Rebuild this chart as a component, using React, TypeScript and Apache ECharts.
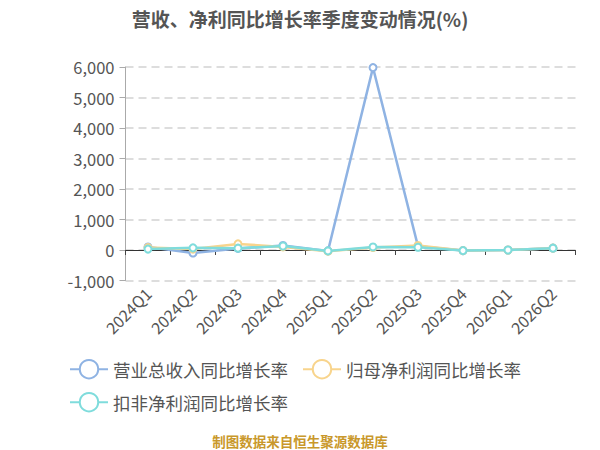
import React, { useEffect, useRef } from "react";
import * as echarts from "echarts";

const categories = ["2024Q1", "2024Q2", "2024Q3", "2024Q4", "2025Q1", "2025Q2", "2025Q3", "2025Q4", "2026Q1", "2026Q2"];
const revenueGrowth = [100, -100, 50, 150, -30, 5980, 120, -20, 0, 60];
const netProfitGrowth = [80, 30, 200, 100, -40, 80, 150, -20, 0, 60];
const deductedProfitGrowth = [30, 70, 60, 130, -30, 100, 90, -20, 0, 60];
const seriesNames = ["营业总收入同比增长率", "归母净利润同比增长率", "扣非净利润同比增长率"];
const titleText = "营收、净利同比增长率季度变动情况(%)";
const footerText = "制图数据来自恒生聚源数据库";

const colors = ["#8fb3e3", "#f8d48c", "#7fdcdc"];
const font = "'Noto Sans CJK SC', 'Noto Sans', sans-serif";

export default function App() {
  const ref = useRef<HTMLDivElement>(null);
  useEffect(() => {
    if (!ref.current) return;
    const chart = echarts.init(ref.current, undefined, { renderer: "svg" });
    const values = [revenueGrowth, netProfitGrowth, deductedProfitGrowth];
    chart.setOption({
      animation: false,
      textStyle: { fontFamily: font },
      title: {
        text: titleText,
        left: "center",
        top: 4,
        textStyle: { fontSize: 19, fontWeight: "bold", color: "#555", fontFamily: font },
      },
      legend: [
        {
          data: [seriesNames[0], seriesNames[1]],
          left: 64,
          top: 354,
          itemWidth: 38,
          itemHeight: 23,
          itemGap: 14,
          textStyle: { fontSize: 17.5, color: "#555", fontFamily: font },
        },
        {
          data: [seriesNames[2]],
          left: 64,
          top: 387,
          itemWidth: 38,
          itemHeight: 23,
          textStyle: { fontSize: 17.5, color: "#555", fontFamily: font },
        },
      ],
      grid: { left: 125.5, right: 24.5, top: 67, bottom: 169.5 },
      xAxis: {
        type: "category",
        data: categories,
        boundaryGap: true,
        axisLine: { onZero: true, lineStyle: { color: "#333" } },
        axisTick: { show: true, lineStyle: { color: "#444" }, length: 5 },
        axisLabel: { rotate: 45, fontSize: 16, color: "#555", margin: 10, fontFamily: font },
      },
      yAxis: {
        type: "value",
        min: -1000,
        max: 6000,
        interval: 1000,
        axisLine: { show: true, lineStyle: { color: "#aaa" } },
        axisTick: { show: true, length: 6, lineStyle: { color: "#aaa" } },
        axisLabel: {
          fontSize: 16.5,
          color: "#555",
          margin: 11,
          fontFamily: font,
          formatter: (v: number) => v.toLocaleString("en-US"),
        },
        splitLine: { show: true, lineStyle: { color: "#ddd", width: 2, type: [8, 5] } },
      },
      graphic: [
        {
          type: "text",
          left: "center",
          top: 434,
          style: {
            text: footerText,
            fontSize: 13.5,
            fontWeight: "bold",
            fill: "#c9982b",
            fontFamily: font,
          },
        },
      ],
      series: seriesNames.map((name, i) => ({
        name,
        type: "line",
        data: values[i],
        symbol: "circle",
        symbolSize: 7,
        lineStyle: { color: colors[i], width: 2.5 },
        itemStyle: { color: "#fff", borderColor: colors[i], borderWidth: 2 },
        z: 2 + i,
      })),
    });
    return () => chart.dispose();
  }, []);
  return (
    <div
      ref={ref}
      style={{ position: "absolute", left: 0, top: 0, width: 600, height: 450 }}
    />
  );
}
